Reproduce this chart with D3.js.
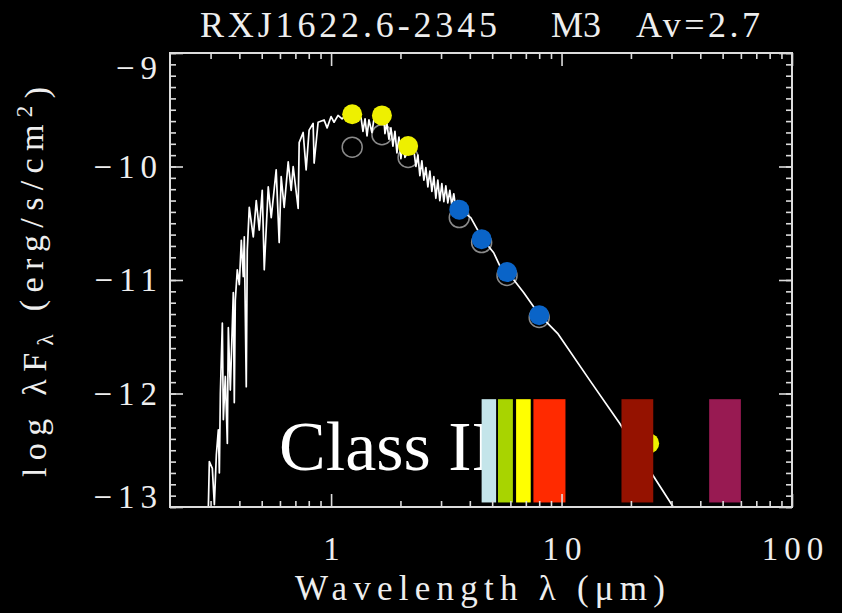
<!DOCTYPE html>
<html>
<head>
<meta charset="utf-8">
<script src="https://cdn.jsdelivr.net/npm/d3@7"></script>
<style>
  html, body { margin: 0; padding: 0; background: #000; }
  svg { display: block; }
</style>
</head>
<body>
<div id="chart"></div>
<script>
// model photosphere spectrum (wavelength in micron, log lambda F_lambda)
var specWave = [0.2934, 0.2963, 0.3053, 0.3115, 0.3178, 0.3242, 0.3275, 0.3308, 0.3374, 0.3408,
    0.3476, 0.3547, 0.3582, 0.3654, 0.3765, 0.3802, 0.3840, 0.3918, 0.3997, 0.4078,
    0.4159, 0.4201, 0.4285, 0.4329, 0.4416, 0.4596, 0.4735, 0.4879, 0.5027, 0.5129,
    0.5337, 0.5499, 0.5778, 0.5954, 0.6074, 0.6259, 0.6514, 0.6712, 0.6847, 0.7197,
    0.7270, 0.7564, 0.7794, 0.8030, 0.8357, 0.8441, 0.8784,
    0.9327, 0.9609, 1.000, 1.030, 1.072, 1.116, 1.185, 1.235, 1.283, 1.349,
    1.375, 1.404, 1.432, 1.460, 1.504, 1.535, 1.614, 1.696, 1.713, 1.747,
    1.782, 1.818, 1.855, 1.893, 1.931, 1.970, 2.009, 2.050, 2.091, 2.220,
    2.288, 2.333, 2.380, 2.428, 2.477, 2.527, 2.578, 2.630, 2.683, 2.737,
    2.792, 2.848, 2.905, 2.964, 3.024, 3.085, 3.147, 3.210, 3.275, 3.341,
    3.408, 3.476, 3.546, 3.618,
    4.037, 4.550, 5.077, 5.444, 5.838, 6.846, 8.034, 9.610, 13.22, 17.83,
    25.27, 30.53];
var specLogF = [-13.00, -12.60, -12.66, -12.98, -12.54, -12.32, -12.70, -12.00, -11.38, -12.23,
    -11.85, -12.44, -11.42, -11.97, -11.11, -12.08, -11.18, -10.91, -11.04, -10.65,
    -10.97, -10.62, -11.94, -10.74, -10.36, -10.62, -10.30, -10.56, -10.21, -10.91,
    -10.18, -10.45, -10.03, -10.67, -10.09, -10.36, -9.96, -10.21, -10.00, -10.37,
    -9.79, -9.70, -10.03, -9.68, -9.62, -9.97, -9.61,
    -9.59, -9.66, -9.56, -9.61, -9.55, -9.58, -9.53, -9.54, -9.55, -9.57,
    -9.69, -9.58, -9.73, -9.59, -9.70, -9.58, -9.55, -9.59, -9.71, -9.62,
    -9.76, -9.66, -9.82, -9.69, -9.88, -9.74, -9.93, -9.77, -9.92, -9.82,
    -9.86, -10.00, -9.90, -10.08, -9.95, -10.12, -10.01, -10.18, -10.04, -10.22,
    -10.09, -10.28, -10.12, -10.30, -10.15, -10.31, -10.17, -10.32, -10.21, -10.34,
    -10.24, -10.37, -10.30, -10.38,
    -10.45, -10.64, -10.76, -10.89, -10.93, -11.11, -11.31, -11.47, -11.88, -12.26,
    -12.74, -13.00];

// photometry (filled = dereddened, open = observed)
var photWave = [1.235, 1.662, 2.159, 3.6, 4.5, 5.8, 8.0, 24];
var photLogF = [-9.54, -9.55, -9.82, -10.38, -10.64, -10.93, -11.31, -12.44];
var photColor = ["#eef000", "#eef000", "#eef000", "#0a64c8", "#0a64c8", "#0a64c8", "#0a64c8", "#eef000"];
var obsWave = [1.235, 1.662, 2.159, 3.6, 4.5, 5.8, 8.0];
var obsLogF = [-9.83, -9.72, -9.92, -10.45, -10.67, -10.96, -11.33];

// coloured wavelength bands
var bandLo = [4.5, 5.3, 6.35, 7.55, 18.2, 43.7];
var bandHi = [5.2, 6.15, 7.35, 10.4, 25.0, 60.0];
var bandColor = ["#c4e5ea", "#a8d400", "#ffff00", "#ff2a00", "#951200", "#981a52"];

var xMajor = [1, 10, 100];
var xMinor = [0.3, 0.4, 0.5, 0.6, 0.7, 0.8, 0.9, 2, 3, 4, 5, 6, 7, 8, 9, 20, 30, 40, 50, 60, 70, 80, 90];
var yMajor = [-13, -12, -11, -10, -9];
var yMinor = d3.range(-130, -89).map(function(d){ return d / 10; });

var width = 842, height = 613;
var padL = 170, padR = 792, padT = 53, padB = 507;
var axisColor = "#dcdcdc";
var font = "'Liberation Serif', 'Times New Roman', serif";

var x = d3.scaleLog().domain([0.2, 100]).range([padL, padR]);
var y = d3.scaleLinear().domain([-13, -9]).range([padB, padT]);

var svg = d3.select("#chart").append("svg")
    .attr("width", width)
    .attr("height", height)
    .style("background", "#000");

svg.append("clipPath").attr("id", "plotclip")
  .append("rect")
    .attr("x", padL).attr("y", padT)
    .attr("width", padR - padL).attr("height", padB - padT);

var plot = svg.append("g").attr("clip-path", "url(#plotclip)");

// open circles (observed) sit behind the model
plot.selectAll("circle.obs")
    .data(obsWave)
  .enter().append("circle")
    .attr("class", "obs")
    .attr("cx", function(d){ return x(d); })
    .attr("cy", function(d, i){ return y(obsLogF[i]); })
    .attr("r", 10)
    .attr("fill", "none")
    .attr("stroke", "#8a8a8a")
    .attr("stroke-width", 1.5);

var line = d3.line()
    .x(function(d){ return x(d); })
    .y(function(d, i){ return y(specLogF[i]); });

plot.append("path")
    .datum(specWave)
    .attr("d", line)
    .attr("fill", "none")
    .attr("stroke", "#fff")
    .attr("stroke-width", 1.7)
    .attr("stroke-linejoin", "round");

plot.selectAll("circle.phot")
    .data(photWave)
  .enter().append("circle")
    .attr("class", "phot")
    .attr("cx", function(d){ return x(d); })
    .attr("cy", function(d, i){ return y(photLogF[i]); })
    .attr("r", 10)
    .attr("fill", function(d, i){ return photColor[i]; });

// label, then the bands drawn over it
plot.append("text")
    .attr("x", 279)
    .attr("y", 470)
    .attr("fill", "#fff")
    .style("font-family", font)
    .style("font-size", "70px")
    .text("Class II");

var barTop = -12.05, barBottom = -12.96;
plot.selectAll("rect.band")
    .data(bandLo)
  .enter().append("rect")
    .attr("class", "band")
    .attr("x", function(d){ return x(d); })
    .attr("width", function(d, i){ return x(bandHi[i]) - x(d); })
    .attr("y", y(barTop))
    .attr("height", y(barBottom) - y(barTop))
    .attr("fill", function(d, i){ return bandColor[i]; });

// axes: ticks inside on all four sides
function styleAxis(g){
    g.select(".domain").remove();
    g.selectAll("line").attr("stroke", axisColor).attr("stroke-width", 1.6);
    g.selectAll("text")
        .attr("fill", "#eee")
        .style("font-family", font)
        .style("font-size", "33px")
        .style("letter-spacing", "6px");
}

svg.append("g").attr("transform", "translate(0," + padB + ")")
    .call(d3.axisBottom(x).tickValues(xMinor).tickSize(-6).tickFormat(""))
    .call(styleAxis);
svg.append("g").attr("transform", "translate(0," + padB + ")")
    .call(d3.axisBottom(x).tickValues(xMajor).tickSize(-13).tickPadding(30).tickFormat(d3.format("d")))
    .call(styleAxis)
    .selectAll("text").attr("dx", 3);
svg.append("g").attr("transform", "translate(0," + padT + ")")
    .call(d3.axisTop(x).tickValues(xMinor).tickSize(-6).tickFormat(""))
    .call(styleAxis);
svg.append("g").attr("transform", "translate(0," + padT + ")")
    .call(d3.axisTop(x).tickValues(xMajor).tickSize(-13).tickFormat(""))
    .call(styleAxis);

svg.append("g").attr("transform", "translate(" + padL + ",0)")
    .call(d3.axisLeft(y).tickValues(yMinor).tickSize(-6).tickFormat(""))
    .call(styleAxis);
var yAxisG = svg.append("g").attr("transform", "translate(" + padL + ",0)")
    .call(d3.axisLeft(y).tickValues(yMajor).tickSize(-13).tickPadding(7).tickFormat(d3.format("d")))
    .call(styleAxis);
// end labels are pulled inside the frame
yAxisG.selectAll(".tick text")
    .attr("dy", function(d){ return d === -9 ? "0.78em" : (d === -13 ? "0.02em" : "0.32em"); });
svg.append("g").attr("transform", "translate(" + padR + ",0)")
    .call(d3.axisRight(y).tickValues(yMinor).tickSize(-6).tickFormat(""))
    .call(styleAxis);
svg.append("g").attr("transform", "translate(" + padR + ",0)")
    .call(d3.axisRight(y).tickValues(yMajor).tickSize(-13).tickFormat(""))
    .call(styleAxis);

svg.append("rect")
    .attr("x", padL).attr("y", padT)
    .attr("width", padR - padL).attr("height", padB - padT)
    .attr("fill", "none")
    .attr("stroke", axisColor)
    .attr("stroke-width", 2);

// title in three pieces
var titleParts = ["RXJ1622.6-2345", "M3", "Av=2.7"];
var titleX = [200, 551, 636];
var titleW = [297, 50, 124];
svg.selectAll("text.title")
    .data(titleParts)
  .enter().append("text")
    .attr("class", "title")
    .attr("x", function(d, i){ return titleX[i]; })
    .attr("y", 37)
    .attr("textLength", function(d, i){ return titleW[i]; })
    .attr("lengthAdjust", "spacing")
    .attr("fill", "#eee")
    .style("font-family", font)
    .style("font-size", "36px")
    .text(function(d){ return d; });

svg.append("text")
    .attr("x", 480)
    .attr("y", 600)
    .attr("text-anchor", "middle")
    .attr("textLength", 370)
    .attr("lengthAdjust", "spacing")
    .attr("fill", "#eee")
    .style("font-family", font)
    .style("font-size", "35px")
    .text("Wavelength \u03bb (\u03bcm)");

var ylab = svg.append("text")
    .attr("transform", "translate(46,282) rotate(-90)")
    .attr("text-anchor", "middle")
    .attr("textLength", 390)
    .attr("lengthAdjust", "spacing")
    .attr("fill", "#eee")
    .style("font-family", font)
    .style("font-size", "34px");
ylab.append("tspan").text("log \u03bbF");
ylab.append("tspan").attr("dy", "0.3em").style("font-size", "23px").text("\u03bb");
ylab.append("tspan").attr("dy", "-0.3em").text(" (erg/s/cm");
ylab.append("tspan").attr("dy", "-0.45em").style("font-size", "23px").text("2");
ylab.append("tspan").attr("dy", "0.45em").text(")");
</script>
</body>
</html>
